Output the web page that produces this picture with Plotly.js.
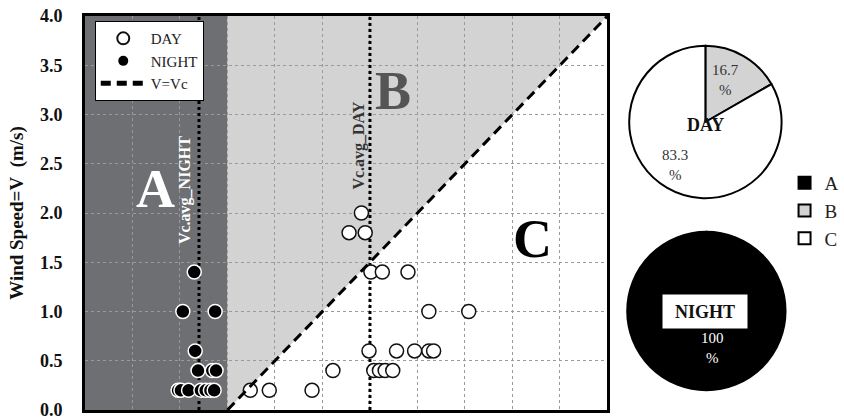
<!DOCTYPE html>
<html lang="en">
<head>
    <meta charset="UTF-8">
    <title>Wind speed vs Vc</title>
    <script src="https://cdn.plot.ly/plotly-3.0.1.min.js"></script>
    <style>
        body { margin: 0; padding: 0; background: #fff; }
        #chart { width: 844px; height: 420px; }
    </style>
</head>
<body>
<div id="chart"></div>
<script>
// axis limits
const xRange = [-1.5, 4.0];
const yRange = [0, 4.0];

// DAY observations (open circles)
const dayX = [1.41, 1.28, 1.45, 1.51, 1.63, 1.90, 2.12, 2.54, 1.49, 1.78, 1.97, 2.12, 2.17,
              1.11, 1.54, 1.60, 1.66, 1.74, 0.24, 0.44, 0.89];
const dayY = [2.0, 1.8, 1.8, 1.4, 1.4, 1.4, 1.0, 1.0, 0.6, 0.6, 0.6, 0.6, 0.6,
              0.4, 0.4, 0.4, 0.4, 0.4, 0.2, 0.2, 0.2];

// NIGHT observations (filled circles)
const nightX = [-0.52, -0.49, -0.41, -0.28, -0.23, -0.18, -0.14, -0.31, -0.16, -0.12, -0.34, -0.47, -0.13, -0.35];
const nightY = [0.2, 0.2, 0.2, 0.2, 0.2, 0.2, 0.2, 0.4, 0.4, 0.4, 0.6, 1.0, 1.0, 1.4];

// V = Vc line
const diagX = [0, 4];
const diagY = [0, 4];

// average Vc
const vcAvgDay = 1.5;
const vcAvgNight = -0.3;

// pie shares
const pieLabels = ['A', 'B', 'C'];
const dayPct = [0, 16.7, 83.3];
const nightPct = [100, 0, 0];
const pieColors = ['#000000', '#d3d3d3', '#ffffff'];

const serif = 'Liberation Serif, Times New Roman, serif';
const plotW = 528, paperW = 759, paperH = 394;
const xDomEnd = plotW / paperW;

// pixel -> paper helpers (margins l=85, t=16, b=10)
const px = v => (v - 85) / paperW;
const py = v => (410 - v) / paperH;

const traces = [
    {
        x: [vcAvgNight, vcAvgNight], y: yRange, mode: 'lines', showlegend: false, hoverinfo: 'skip',
        line: { color: '#000', width: 3, dash: 'dot' }
    },
    {
        x: [vcAvgDay, vcAvgDay], y: yRange, mode: 'lines', showlegend: false, hoverinfo: 'skip',
        line: { color: '#000', width: 3, dash: 'dot' }
    },
    {
        x: dayX, y: dayY, mode: 'markers', name: 'DAY',
        marker: { size: 14, color: '#fff', line: { color: '#111', width: 1.5 } }
    },
    {
        x: nightX, y: nightY, mode: 'markers', name: 'NIGHT',
        marker: { size: 14, color: '#000', line: { color: '#fff', width: 1.5 } }
    },
    {
        x: diagX, y: diagY, mode: 'lines', name: 'V=Vc',
        line: { color: '#000', width: 3, dash: '10px,6px' }
    },
    {
        type: 'pie', labels: pieLabels, values: dayPct, sort: false, direction: 'clockwise', rotation: 0,
        marker: { colors: pieColors, line: { color: '#000', width: 2 } },
        textinfo: 'none', hoverinfo: 'label+value', legend: 'legend2',
        domain: { x: [px(635), px(789)], y: [py(199), py(45)] }
    },
    {
        type: 'pie', labels: pieLabels, values: nightPct, sort: false, direction: 'clockwise', rotation: 0,
        marker: { colors: pieColors, line: { color: '#000', width: 2 } },
        textinfo: 'none', hoverinfo: 'label+value', legend: 'legend2',
        domain: { x: [px(633), px(793)], y: [py(391), py(231)] }
    }
];

const pText = (x, y, text, font, extra) => Object.assign({
    xref: 'paper', yref: 'paper', x: px(x), y: py(y), xanchor: 'center', yanchor: 'middle',
    text: text, showarrow: false, font: Object.assign({ family: serif }, font)
}, extra || {});

const layout = {
    width: 844,
    height: 420,
    margin: { l: 85, r: 0, t: 16, b: 10 },
    paper_bgcolor: '#fff',
    plot_bgcolor: '#fff',
    font: { family: serif, color: '#000' },
    xaxis: {
        domain: [0, xDomEnd], range: xRange, tick0: xRange[0], dtick: 0.5,
        showticklabels: false, ticks: '', zeroline: false,
        showgrid: true, gridcolor: '#9a9a9a', griddash: 'dot', gridwidth: 1,
        showline: true, mirror: true, linecolor: '#000', linewidth: 3
    },
    yaxis: {
        range: yRange, tick0: 0, dtick: 0.5, tickformat: '.1f', ticks: '', ticklabelstandoff: 16,
        ticklabeloverflow: 'allow',
        tickfont: { family: serif, size: 18, weight: 'bold', color: '#111' },
        zeroline: false, showgrid: true, gridcolor: '#9a9a9a', griddash: 'dot', gridwidth: 1,
        showline: true, mirror: true, linecolor: '#000', linewidth: 3,
        title: { text: 'Wind Speed=V\u00a0 (m/s)', standoff: 12, font: { family: serif, size: 19, weight: 'bold', color: '#111' } }
    },
    yaxis2: {
        overlaying: 'y', anchor: 'free', side: 'left',
        position: (0 - xRange[0]) / (xRange[1] - xRange[0]) * xDomEnd,
        range: yRange, tick0: 0, dtick: 0.5, ticks: 'outside', ticklen: 5, tickwidth: 1.5, tickcolor: '#000',
        showticklabels: false, showgrid: false, zeroline: false, showline: false
    },
    shapes: [
        {
            type: 'rect', xref: 'x', yref: 'y', layer: 'below',
            x0: xRange[0], x1: diagX[0], y0: yRange[0], y1: yRange[1],
            fillcolor: '#6d6f72', line: { width: 0 }
        },
        {
            type: 'path', xref: 'x', yref: 'y', layer: 'below',
            path: `M ${diagX[0]},${diagY[0]} L ${diagX[0]},${yRange[1]} L ${diagX[1]},${diagY[1]} Z`,
            fillcolor: '#d3d3d3', line: { width: 0 }
        }
    ],
    legend: {
        x: 0.013, y: 0.987, xanchor: 'left', yanchor: 'top',
        bgcolor: '#fff', bordercolor: '#000', borderwidth: 1,
        font: { family: serif, size: 15, color: '#222' },
        itemsizing: 'constant', itemwidth: 45, entrywidth: 82, tracegroupgap: 0
    },
    legend2: {
        x: px(792), y: py(164), xanchor: 'left', yanchor: 'top',
        bgcolor: 'rgba(0,0,0,0)', borderwidth: 0,
        font: { family: serif, size: 19, color: '#222' }
    },
    annotations: [
        { xref: 'x', yref: 'y', x: -0.76, y: 2.24, text: 'A', showarrow: false,
          font: { family: serif, size: 54, weight: 'bold', color: '#fff' } },
        { xref: 'x', yref: 'y', x: 1.74, y: 3.24, text: 'B', showarrow: false,
          font: { family: serif, size: 54, weight: 'bold', color: '#555' } },
        { xref: 'x', yref: 'y', x: 3.21, y: 1.74, text: 'C', showarrow: false,
          font: { family: serif, size: 54, weight: 'bold', color: '#000' } },
        { xref: 'x', yref: 'y', x: -0.44, y: 2.23, text: 'Vc.avg_NIGHT', textangle: -90, showarrow: false,
          font: { family: serif, size: 16, weight: 'bold', color: '#fff' } },
        { xref: 'x', yref: 'y', x: 1.38, y: 2.68, text: 'Vc.avg_DAY', textangle: -90, showarrow: false,
          font: { family: serif, size: 16, weight: 'bold', color: '#333' } },
        pText(732, 80, dayPct[1] + '<br>%', { size: 15, color: '#333' }),
        pText(681, 165, dayPct[2] + '<br>%', { size: 15, color: '#333' }),
        pText(712, 125, 'DAY', { size: 18, weight: 'bold', color: '#111' }),
        pText(712, 311, 'NIGHT', { size: 18, weight: 'bold', color: '#111' }, { width: 82, height: 31, bgcolor: '#fff' }),
        pText(719, 348, nightPct[0] + '<br>%', { size: 15, color: '#fff' })
    ]
};

Plotly.newPlot('chart', traces, layout, { displayModeBar: false, staticPlot: true });
</script>
</body>
</html>
